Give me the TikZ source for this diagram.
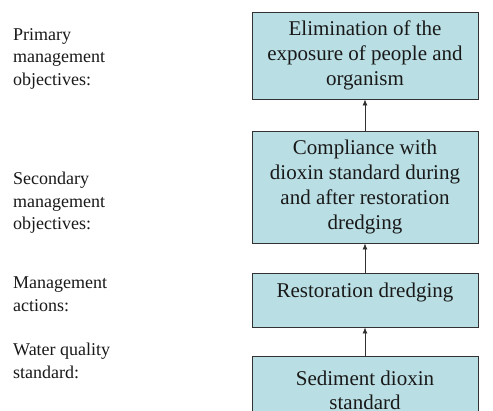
\documentclass[tikz,border=0pt]{standalone}
\usepackage{fontspec}
\setmainfont{Liberation Serif}
\usetikzlibrary{arrows.meta}
\definecolor{boxfill}{RGB}{185,222,227}
\definecolor{edge}{RGB}{50,50,50}
\definecolor{ink}{RGB}{25,25,25}
\begin{document}
\begin{tikzpicture}[x=1pt,y=-1pt,
  stepbox/.style={draw=edge,line width=0.9pt,fill=boxfill,text=ink,
    minimum width=226pt,inner sep=0pt,align=center,
    font=\fontsize{21}{25}\selectfont},
  levellabel/.style={anchor=north west,inner sep=0pt,align=left,text=ink,
    font=\fontsize{18}{22.5}\selectfont},
  link/.style={draw=edge,line width=0.8pt,-{Latex[length=6pt,width=5pt]}}]
\clip (0,0) rectangle (493,410);
\fill[white] (0,0) rectangle (493,410);

% level labels on the left
\node[levellabel] (lprim) at (13,28) {Primary\\management\\objectives:};
\node[levellabel] (lsec) at (13,172) {Secondary\\management\\objectives:};
\node[levellabel] (lact) at (13,277) {Management\\actions:};
\node[levellabel] (lstd) at (13,343) {Water quality\\standard:};

% chain of boxes
\node[stepbox,minimum height=87pt] (elim) at (365,55.5)
  {Elimination of the\\exposure of people and\\organism};
\node[stepbox,minimum height=112pt] (comp) at (365,187)
  {Compliance with\\dioxin standard during\\and after restoration\\dredging};
\node[stepbox,minimum height=54pt,text depth=20pt] (dredge) at (365,300)
  {Restoration dredging};
\node[stepbox,minimum height=68pt,font=\fontsize{21}{24}\selectfont] (sed) at (365,390)
  {Sediment dioxin\\standard};

% arrows pointing upward
\draw[link] (sed.north) -- (dredge.south);
\draw[link] (dredge.north) -- (comp.south);
\draw[link] (comp.north) -- (elim.south);
\end{tikzpicture}
\end{document}
